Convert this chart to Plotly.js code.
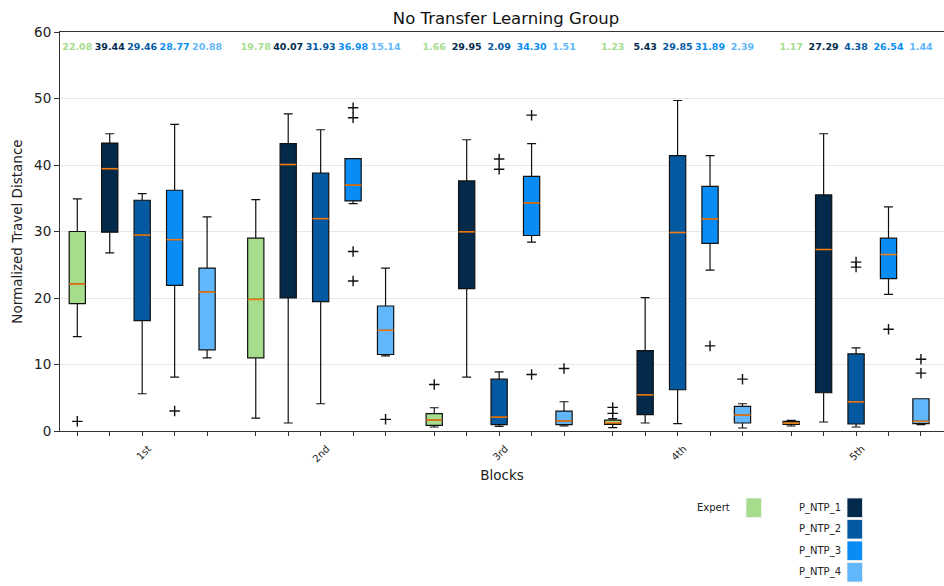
<!DOCTYPE html>
<html>
<head>
<meta charset="utf-8">
<script src="https://cdn.plot.ly/plotly-3.0.1.min.js"></script>
<style>
  html, body { margin: 0; padding: 0; background: #fff; }
  #chart { width: 944px; height: 586px; }
</style>
</head>
<body>
<div id="chart"></div>
<script>
// Blocks (x categories) and series
const blocks = ['1st', '2nd', '3rd', '4th', '5th'];
const seriesNames = ['Expert', 'P_NTP_1', 'P_NTP_2', 'P_NTP_3', 'P_NTP_4'];

// Box statistics per series, one value per block
const expertLow     = [14.2, 1.95, 0.6, 0.5, 0.75];
const expertQ1      = [19.15, 11.0, 0.85, 1.0, 1.0];
const expertMedian  = [22.08, 19.78, 1.66, 1.23, 1.17];
const expertQ3      = [30.0, 29.0, 2.6, 1.65, 1.45];
const expertHigh    = [34.9, 34.8, 3.5, 1.85, 1.6];
const expertOut     = [[1.45], [], [7.0], [3.55, 2.65], []];

const ntp1Low       = [26.8, 1.2, 8.1, 1.2, 1.35];
const ntp1Q1        = [29.9, 20.0, 21.4, 2.45, 5.75];
const ntp1Median    = [39.44, 40.07, 29.95, 5.43, 27.29];
const ntp1Q3        = [43.3, 43.2, 37.6, 12.1, 35.5];
const ntp1High      = [44.7, 47.7, 43.8, 20.05, 44.7];
const ntp1Out       = [[], [], [], [], []];

const ntp2Low       = [5.6, 4.1, 0.7, 1.1, 0.6];
const ntp2Q1        = [16.6, 19.45, 0.95, 6.2, 1.05];
const ntp2Median    = [29.46, 31.93, 2.09, 29.85, 4.38];
const ntp2Q3        = [34.7, 38.8, 7.8, 41.4, 11.6];
const ntp2High      = [35.7, 45.3, 8.9, 49.7, 12.5];
const ntp2Out       = [[], [], [40.9, 39.35], [], [25.4, 24.65]];

const ntp3Low       = [8.1, 34.2, 28.4, 24.2, 20.55];
const ntp3Q1        = [21.9, 34.6, 29.4, 28.2, 22.9];
const ntp3Median    = [28.77, 36.98, 34.30, 31.89, 26.54];
const ntp3Q3        = [36.2, 40.95, 38.3, 36.8, 29.0];
const ntp3High      = [46.1, 40.95, 43.2, 41.4, 33.7];
const ntp3Out       = [[3.0], [48.6, 47.1, 27.0, 22.55], [47.5, 8.5], [12.8], [15.3]];

const ntp4Low       = [11.0, 11.3, 0.75, 0.45, 0.95];
const ntp4Q1        = [12.2, 11.5, 0.95, 1.2, 1.1];
const ntp4Median    = [20.88, 15.14, 1.51, 2.39, 1.44];
const ntp4Q3        = [24.5, 18.8, 3.0, 3.7, 4.85];
const ntp4High      = [32.2, 24.5, 4.4, 4.1, 4.85];
const ntp4Out       = [[], [1.75], [9.4], [7.8], [10.8, 8.7]];

const seriesColors = ['#a6dd8c', '#03294b', '#0559a1', '#0a8cf5', '#62b7fa'];

const stats = [
  [expertLow, expertQ1, expertMedian, expertQ3, expertHigh, expertOut],
  [ntp1Low, ntp1Q1, ntp1Median, ntp1Q3, ntp1High, ntp1Out],
  [ntp2Low, ntp2Q1, ntp2Median, ntp2Q3, ntp2High, ntp2Out],
  [ntp3Low, ntp3Q1, ntp3Median, ntp3Q3, ntp3High, ntp3Out],
  [ntp4Low, ntp4Q1, ntp4Median, ntp4Q3, ntp4High, ntp4Out]
];

// Layout of the groups: five boxes per block, half a slot gap between blocks
const nSeries = seriesNames.length;
const groupStep = nSeries + 0.5;
const boxWidth = 0.5;
const pos = (g, s) => g * groupStep + s;
const FONT = 'DejaVu Sans, Liberation Sans, sans-serif';
const labelY = 57.6;

const traces = [];
const outX = [], outY = [];
const tickVals = [], tickText = [];

blocks.forEach((b, g) => {
  for (let s = 0; s < nSeries; s++) {
    tickVals.push(pos(g, s));
    tickText.push(s === Math.floor(nSeries / 2) ? b : '');
  }
});

stats.forEach((st, s) => {
  const [low, q1, med, q3, high, outs] = st;
  const xs = blocks.map((b, g) => pos(g, s));
  traces.push({
    type: 'box',
    x: xs,
    lowerfence: low, q1: q1, median: med, q3: q3, upperfence: high,
    width: boxWidth,
    whiskerwidth: 0.55,
    fillcolor: seriesColors[s],
    line: { color: '#111', width: 1.2 },
    boxpoints: false,
    showlegend: false,
    hoverinfo: 'skip'
  });
  // orange median bars
  const mx = [], my = [];
  xs.forEach((x, i) => {
    mx.push(x - boxWidth / 2, x + boxWidth / 2, null);
    my.push(med[i], med[i], null);
  });
  traces.push({
    type: 'scatter', mode: 'lines', x: mx, y: my,
    line: { color: '#f07c14', width: 1.6 },
    showlegend: false, hoverinfo: 'skip'
  });
  // median value labels along the top
  traces.push({
    type: 'scatter', mode: 'text',
    x: xs, y: xs.map(() => labelY),
    text: med.map(v => v.toFixed(2)),
    textposition: 'middle center',
    textfont: { family: FONT, size: 9.5, color: seriesColors[s], weight: 'bold' },
    showlegend: false, hoverinfo: 'skip', cliponaxis: false
  });
  outs.forEach((arr, g) => arr.forEach(v => { outX.push(pos(g, s)); outY.push(v); }));
});

traces.push({
  type: 'scatter', mode: 'markers', x: outX, y: outY,
  marker: { symbol: 'cross-thin-open', size: 7.5, color: '#111', line: { color: '#111', width: 1.4 } },
  showlegend: false, hoverinfo: 'skip', cliponaxis: false
});

// Legend drawn as labels + swatches beneath the axes
const L = 60, R = 944, T = 32, B = 431;
const px = x => (x - L) / (R - L);
const py = y => (B - y) / (B - T);
const shapes = [];
const annotations = [];
const legendItems = [
  { name: seriesNames[0], color: seriesColors[0], sx: 746, sy: 498, tx: 732 },
  { name: seriesNames[1], color: seriesColors[1], sx: 847, sy: 498, tx: 843 },
  { name: seriesNames[2], color: seriesColors[2], sx: 847, sy: 519.5, tx: 843 },
  { name: seriesNames[3], color: seriesColors[3], sx: 847, sy: 541, tx: 843 },
  { name: seriesNames[4], color: seriesColors[4], sx: 847, sy: 562.5, tx: 843 }
];
legendItems.forEach(it => {
  shapes.push({
    type: 'rect', xref: 'paper', yref: 'paper',
    x0: px(it.sx), x1: px(it.sx + 15.5), y0: py(it.sy), y1: py(it.sy + 19.5),
    fillcolor: it.color, line: { color: '#f2f2f2', width: 0.8 }
  });
  annotations.push({
    xref: 'paper', yref: 'paper', x: px(it.tx), y: py(it.sy + 9.5),
    xanchor: 'right', yanchor: 'middle', showarrow: false,
    text: it.name, font: { family: FONT, size: 10, color: '#222' }
  });
});

const layout = {
  width: 944, height: 586,
  margin: { l: L, r: 944 - R, t: T, b: 586 - B },
  paper_bgcolor: '#fff', plot_bgcolor: '#fff',
  font: { family: FONT, color: '#222' },
  title: {
    text: 'No Transfer Learning Group',
    font: { family: FONT, size: 16.5, color: '#111' },
    xref: 'container', yref: 'container',
    x: 506 / 944, xanchor: 'center', y: 1 - 18 / 586, yanchor: 'middle'
  },
  xaxis: {
    range: [-0.533, 26.71],
    tickvals: tickVals, ticktext: tickText,
    tickangle: -45,
    ticklabelshift: 6, ticklabelstandoff: 3,
    tickfont: { family: FONT, size: 10, color: '#222' },
    ticks: 'outside', ticklen: 4, tickcolor: '#333',
    showline: true, linecolor: '#333', linewidth: 1, mirror: true,
    showgrid: false, zeroline: false,
    title: { text: 'Blocks', font: { family: FONT, size: 13.5, color: '#222' }, standoff: 7 }
  },
  yaxis: {
    range: [0, 60],
    tickvals: [0, 10, 20, 30, 40, 50, 60],
    tickfont: { family: FONT, size: 13.5, color: '#222' },
    ticks: 'outside', ticklen: 5, tickcolor: '#333',
    showline: true, linecolor: '#333', linewidth: 1,
    showgrid: true, gridcolor: '#e8e8e8', gridwidth: 1, zeroline: false,
    title: { text: 'Normalized Travel Distance', font: { family: FONT, size: 13.5, color: '#222' }, standoff: 8 }
  },
  shapes: shapes,
  annotations: annotations
};

Plotly.newPlot('chart', traces, layout, { staticPlot: true, displayModeBar: false });
</script>
</body>
</html>
